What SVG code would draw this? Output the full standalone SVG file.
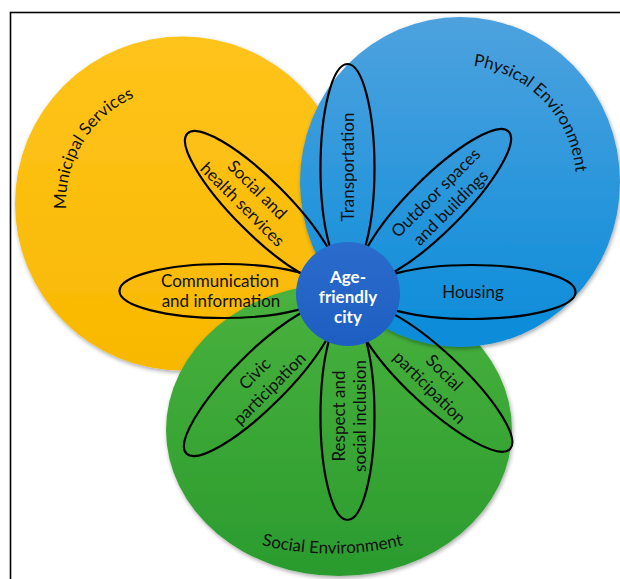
<svg xmlns="http://www.w3.org/2000/svg" xmlns:xlink="http://www.w3.org/1999/xlink" width="620" height="579" viewBox="0 0 620 579">
  <defs>
    <linearGradient id="gYellow" x1="0" y1="0" x2="0" y2="1">
      <stop offset="0" stop-color="#FFC41C"/>
      <stop offset="1" stop-color="#F8B800"/>
    </linearGradient>
    <linearGradient id="gBlue" x1="0" y1="0" x2="0" y2="1">
      <stop offset="0" stop-color="#4EA2DE"/>
      <stop offset="1" stop-color="#0A8CD9"/>
    </linearGradient>
    <linearGradient id="gGreen" x1="0" y1="0" x2="0" y2="1">
      <stop offset="0" stop-color="#4AB23E"/>
      <stop offset="1" stop-color="#2A9B2E"/>
    </linearGradient>
    <linearGradient id="gCenter" x1="0" y1="0" x2="0" y2="1">
      <stop offset="0" stop-color="#2A6CCC"/>
      <stop offset="1" stop-color="#1E5EC2"/>
    </linearGradient>
    <filter id="shadow" x="-10%" y="-10%" width="120%" height="120%">
      <feDropShadow dx="1" dy="2" stdDeviation="2" flood-color="#000" flood-opacity="0.35"/>
    </filter>
    <path id="arcMunicipal" d="M 66.2 209.1 A 116 116 0 0 1 152 91"/>
    <path id="arcPhysical" d="M 473.3 65.9 A 117 117 0 0 1 572 212.3"/>
    <path id="arcSocialEnv" d="M 250 542 A 300 300 0 0 0 415 542"/>
  </defs>
  <style>
    .lbl { font-family: Lato, "Open Sans", "Liberation Sans", sans-serif; font-size: 17px; fill: #111; }
    .petal { fill: none; stroke: #000; stroke-width: 2.2; }
    .ctr { font-family: Lato, "Open Sans", "Liberation Sans", sans-serif; font-size: 17px; font-weight: bold; fill: #fff; }
  </style>

  <rect id="frame" x="10.5" y="12.5" width="620" height="600" fill="#fff" stroke="#000" stroke-width="1.6"/>

  <g id="municipal-services">
    <circle cx="182" cy="203.5" r="167" fill="url(#gYellow)" filter="url(#shadow)"/>
    <text class="lbl"><textPath xlink:href="#arcMunicipal" href="#arcMunicipal">Municipal Services</textPath></text>
  </g>

  <g id="social-environment">
    <ellipse cx="339" cy="430" rx="173" ry="146" fill="url(#gGreen)" filter="url(#shadow)"/>
    <text class="lbl" text-anchor="middle"><textPath xlink:href="#arcSocialEnv" href="#arcSocialEnv" startOffset="50%">Social Environment</textPath></text>
  </g>

  <g id="physical-environment">
    <ellipse cx="460" cy="182" rx="160" ry="165" fill="url(#gBlue)" filter="url(#shadow)"/>
    <text class="lbl"><textPath xlink:href="#arcPhysical" href="#arcPhysical">Physical Environment</textPath></text>
  </g>

  <g id="transportation">
    <ellipse class="petal" cx="0" cy="0" rx="104" ry="27" transform="translate(347.5 168) rotate(-90)"/>
    <text class="lbl" text-anchor="middle" transform="translate(348 167) rotate(-90)"><tspan x="0" y="6">Transportation</tspan></text>
  </g>

  <g id="outdoor-spaces">
    <ellipse class="petal" cx="0" cy="0" rx="104" ry="27" transform="translate(435 205) rotate(-45)"/>
    <text class="lbl" text-anchor="middle" transform="translate(443 200) rotate(-45)"><tspan x="0" y="-4.5">Outdoor spaces</tspan><tspan x="0" y="16.5">and buildings</tspan></text>
  </g>

  <g id="housing">
    <ellipse class="petal" cx="471.5" cy="292" rx="104" ry="27"/>
    <text class="lbl" x="473" y="298" text-anchor="middle">Housing</text>
  </g>

  <g id="social-participation">
    <ellipse class="petal" cx="0" cy="0" rx="104" ry="27" transform="translate(434 378) rotate(43)"/>
    <text class="lbl" text-anchor="middle" transform="translate(437 380) rotate(45)"><tspan x="0" y="-4.5">Social</tspan><tspan x="0" y="16.5">participation</tspan></text>
  </g>

  <g id="respect-inclusion">
    <ellipse class="petal" cx="0" cy="0" rx="104" ry="27" transform="translate(347.5 416) rotate(90)"/>
    <text class="lbl" text-anchor="middle" transform="translate(349 416) rotate(-90)"><tspan x="0" y="-4.5">Respect and</tspan><tspan x="0" y="16.5">social inclusion</tspan></text>
  </g>

  <g id="civic-participation">
    <ellipse class="petal" cx="0" cy="0" rx="104" ry="27" transform="translate(260 380) rotate(135)"/>
    <text class="lbl" text-anchor="middle" transform="translate(262 381) rotate(-45)"><tspan x="0" y="-4.5">Civic</tspan><tspan x="0" y="16.5">participation</tspan></text>
  </g>

  <g id="communication-information">
    <ellipse class="petal" cx="223.5" cy="291" rx="104" ry="27"/>
    <text class="lbl" text-anchor="middle"><tspan x="220" y="287">Communication</tspan><tspan x="221" y="307">and information</tspan></text>
  </g>

  <g id="social-health-services">
    <ellipse class="petal" cx="0" cy="0" rx="104" ry="27" transform="translate(261 207) rotate(-135)"/>
    <text class="lbl" text-anchor="middle" transform="translate(250 197) rotate(45)"><tspan x="0" y="-4.5">Social and</tspan><tspan x="0" y="16.5">health services</tspan></text>
  </g>

  <g id="age-friendly-city">
    <circle cx="348" cy="294" r="52" fill="url(#gCenter)"/>
    <text class="ctr" text-anchor="middle"><tspan x="348" y="283">Age-</tspan><tspan x="348" y="303">friendly</tspan><tspan x="348" y="323">city</tspan></text>
  </g>
</svg>
